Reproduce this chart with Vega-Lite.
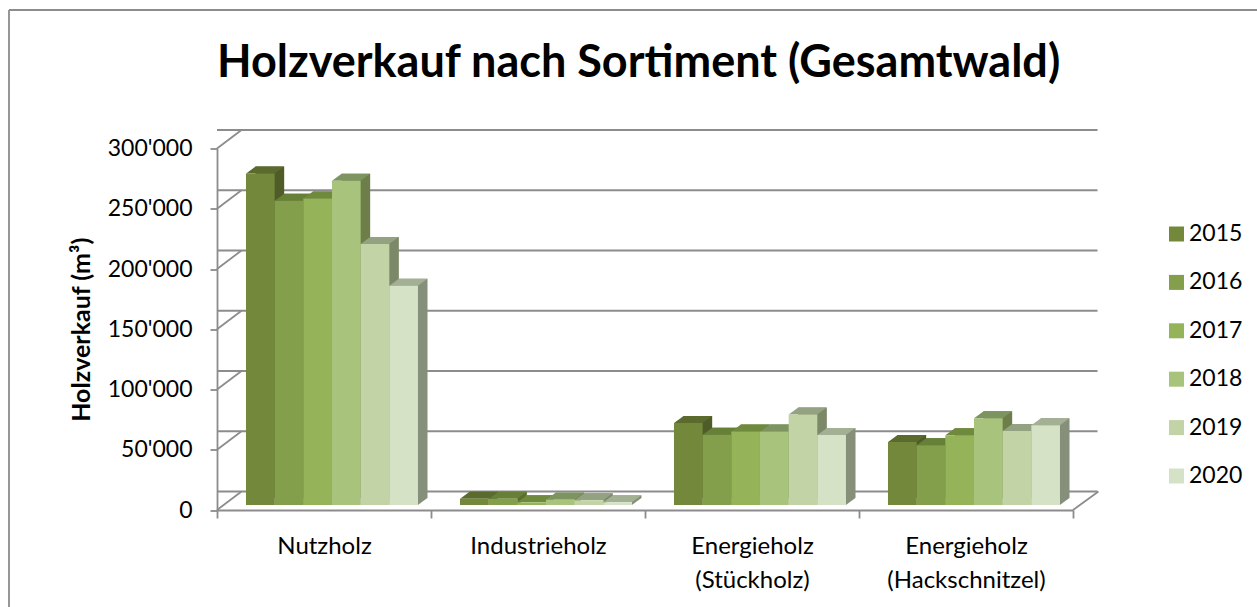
{
"$schema":"https://vega.github.io/schema/vega-lite/v6.json",
"width":856,"height":361.5,
"autosize":{"type":"none"},
"padding":{"left":217,"top":148.5,"right":184,"bottom":97},
"background":"white",
"config":{"view":{"stroke":null},"font":"Lato"},
"title":{"text":"Holzverkauf nach Sortiment (Gesamtwald)","font":"Lato","fontSize":45,"fontWeight":"bold","color":"#000000","anchor":"start","frame":"group","offset":-80,"dx":0},
"datasets":{
"bars":[
{"s":"Nutzholz","year":"2015","v":275200},{"s":"Nutzholz","year":"2016","v":252500},{"s":"Nutzholz","year":"2017","v":254400},{"s":"Nutzholz","year":"2018","v":269100},{"s":"Nutzholz","year":"2019","v":216600},{"s":"Nutzholz","year":"2020","v":182000},
{"s":"Industrieholz","year":"2015","v":5200},{"s":"Industrieholz","year":"2016","v":5200},{"s":"Industrieholz","year":"2017","v":2200},{"s":"Industrieholz","year":"2018","v":4400},{"s":"Industrieholz","year":"2019","v":3900},{"s":"Industrieholz","year":"2020","v":2200},
{"s":"Energieholz|(Stückholz)","year":"2015","v":68000},{"s":"Energieholz|(Stückholz)","year":"2016","v":58400},{"s":"Energieholz|(Stückholz)","year":"2017","v":60900},{"s":"Energieholz|(Stückholz)","year":"2018","v":60900},{"s":"Energieholz|(Stückholz)","year":"2019","v":75200},{"s":"Energieholz|(Stückholz)","year":"2020","v":58100},
{"s":"Energieholz|(Hackschnitzel)","year":"2015","v":52300},{"s":"Energieholz|(Hackschnitzel)","year":"2016","v":49500},{"s":"Energieholz|(Hackschnitzel)","year":"2017","v":57800},{"s":"Energieholz|(Hackschnitzel)","year":"2018","v":71900},{"s":"Energieholz|(Hackschnitzel)","year":"2019","v":61400},{"s":"Energieholz|(Hackschnitzel)","year":"2020","v":66100}
],
"grid":[{"g":0},{"g":50000},{"g":100000},{"g":150000},{"g":200000},{"g":250000},{"g":300000}]
},
"resolve":{"scale":{"color":"independent","xOffset":"independent"}},
"layer":[
{"data":{"name":"grid"},"mark":{"type":"rule","stroke":"#8c8c8c","strokeWidth":1.8,"xOffset":24.5,"yOffset":-18.5},
 "encoding":{"y":{"field":"g","type":"quantitative","scale":{"domain":[0,300000]},
   "axis":{"title":"Holzverkauf (m³)","titleFont":"Lato","titleFontSize":25,"titleFontWeight":"bold","titleColor":"#000","titlePadding":13,
   "values":[0,50000,100000,150000,200000,250000,300000],"labelExpr":"replace(format(datum.value,','),',',\"'\")","labelFont":"Lato","labelFontSize":23,"labelColor":"#000","labelPadding":18,"tickSize":7,"tickColor":"#8c8c8c","tickWidth":1.8,"domainColor":"#8c8c8c","domainWidth":1.8,"grid":false}}}},
{"data":{"name":"grid"},"mark":{"type":"point","shape":"M0,0L24.5,-18.5","size":4,"filled":false,"stroke":"#8c8c8c","strokeWidth":1.8,"opacity":1},
 "encoding":{"y":{"field":"g","type":"quantitative"},"x":{"value":0}}},
{"data":{"values":[{"g":0}]},"mark":{"type":"point","shape":"M856,0L881.5,-18.5M-208,-500H1040M-208,-500V98","size":4,"filled":false,"stroke":"#8c8c8c","strokeWidth":1.8,"opacity":1},
 "encoding":{"y":{"field":"g","type":"quantitative"},"x":{"value":0}}},
{"data":{"name":"bars"},"mark":{"type":"bar","yOffset":-12,"y2Offset":-12},
 "encoding":{
  "x":{"field":"s","type":"nominal","sort":null,"scale":{"paddingInner":0,"paddingOuter":0},
   "axis":{"title":null,"labelAngle":0,"labelExpr":"split(datum.label,'|')","labelFont":"Lato","labelFontSize":24,"labelColor":"#000","labelPadding":16,"labelLineHeight":34,"labelBaseline":"top","tickSize":8,"tickColor":"#8c8c8c","tickWidth":1.8,"domainColor":"#8c8c8c","domainWidth":1.8,"tickBand":"extent","labelFlush":false}},
  "xOffset":{"field":"year","type":"nominal","scale":{"type":"band","paddingInner":0,"paddingOuter":0.7326,"align":0.917}},
  "y":{"field":"v","type":"quantitative"},
  "y2":{"datum":0},
  "color":{"field":"year","type":"nominal","legend":null,"scale":{"domain":["2015","2016","2017","2018","2019","2020"],"range":["#4f5c28","#5b6e2f","#657a35","#6d7e4a","#7c8868","#858f7a"]}}}},
{"data":{"name":"bars"},"mark":{"type":"point","shape":"M14.25,0L23.75,-7L14.25,-7Z","size":4,"filled":true,"opacity":1,"yOffset":-5},
 "encoding":{
  "x":{"field":"s","type":"nominal","sort":null},
  "xOffset":{"field":"year","type":"nominal","scale":{"type":"band","paddingInner":0,"paddingOuter":0.7326,"align":0.69}},
  "y":{"datum":0},
  "color":{"field":"year","type":"nominal","legend":null,"scale":{"domain":["2015","2016","2017","2018","2019","2020"],"range":["#4f5c28","#5b6e2f","#657a35","#6d7e4a","#7c8868","#858f7a"]}}}},
{"data":{"name":"bars"},"mark":{"type":"point","shape":"M-14.25,0L14.25,0L23.75,-7L-4.75,-7Z","size":4,"filled":true,"opacity":1,"yOffset":-5},
 "encoding":{
  "x":{"field":"s","type":"nominal","sort":null},
  "xOffset":{"field":"year","type":"nominal","scale":{"type":"band","paddingInner":0,"paddingOuter":0.7326,"align":0.69}},
  "y":{"field":"v","type":"quantitative"},
  "color":{"field":"year","type":"nominal","legend":null,"scale":{"domain":["2015","2016","2017","2018","2019","2020"],"range":["#5b6b2e","#668037","#6f8a3c","#7d9460","#93a281","#a4b094"]}}}},
{"data":{"name":"bars"},"mark":{"type":"bar","yOffset":-5,"y2Offset":-5},
 "encoding":{
  "x":{"field":"s","type":"nominal","sort":null},
  "xOffset":{"field":"year","type":"nominal","scale":{"type":"band","paddingInner":0,"paddingOuter":0.7326,"align":0.69}},
  "y":{"field":"v","type":"quantitative"},
  "y2":{"datum":0},
  "color":{"field":"year","type":"nominal","title":null,"scale":{"domain":["2015","2016","2017","2018","2019","2020"],"range":["#74883c","#839f4b","#95b358","#a8c47c","#c2d3a5","#d5e2c5"]},
   "legend":{"orient":"none","legendX":948,"legendY":74,"symbolType":"square","symbolSize":225,"symbolStrokeWidth":0,"labelFont":"Lato","labelFontSize":23,"labelColor":"#000","rowPadding":24.4,"labelOffset":1}}}}
]
}
